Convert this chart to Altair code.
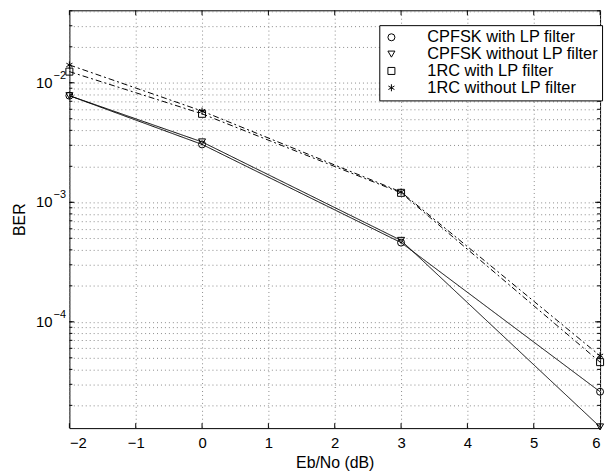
import altair as alt
import pandas as pd

# ---- data ----
ebno = [-2, 0, 3, 6]
series_names = ["CPFSK with LP filter", "CPFSK without LP filter",
                "1RC with LP filter", "1RC without LP filter"]
cpfsk_lp = [7.8e-3, 3.05e-3, 4.6e-4, 2.6e-5]
cpfsk_nolp = [7.8e-3, 3.2e-3, 4.8e-4, 1.32e-5]
rc_lp = [1.24e-2, 5.5e-3, 1.2e-3, 4.6e-5]
rc_nolp = [1.41e-2, 5.8e-3, 1.22e-3, 5.2e-5]
series_style = ["solid", "solid", "dashdot", "dashdot"]

x_ticks = [-2, -1, 0, 1, 2, 3, 4, 5, 6]
y_domain = [1.29e-5, 4.04e-2]
y_decades = [1e-4, 1e-3, 1e-2]
y_exponents = ["\u22124", "\u22123", "\u22122"]
y_minor = [m * 10.0 ** d for d in range(-5, -1) for m in range(1, 10)
           if y_domain[0] <= m * 10.0 ** d <= y_domain[1]]

W, H = 536, 422
FONT = "Liberation Sans"

rows = []
for name, style, vals in zip(series_names, series_style,
                             [cpfsk_lp, cpfsk_nolp, rc_lp, rc_nolp]):
    for x, v in zip(ebno, vals):
        rows.append({"x": x, "ber": v, "series": name, "style": style})
df = pd.DataFrame(rows)

xscale = alt.Scale(domain=[-2, 6], nice=False, zero=False)
yscale = alt.Scale(type="log", domain=y_domain, nice=False)

x_axis = alt.Axis(values=x_ticks, grid=True, gridDash=[1, 3],
                  gridColor="#8a8a8a", ticks=False, domain=False,
                  labelFontSize=15, labelFont=FONT, labelPadding=8,
                  labelColor="black", title="Eb/No (dB)",
                  titleFont=FONT, titleFontSize=16, titleFontWeight="normal",
                  titleColor="black", titlePadding=4)
y_axis = alt.Axis(values=y_minor, grid=True, gridDash=[1, 3],
                  gridColor="#8a8a8a", ticks=False, domain=False,
                  labels=False, title="BER", titleFont=FONT,
                  titleFontSize=16, titleFontWeight="normal",
                  titleColor="black", titlePadding=42)

asterisk = "M0,-1L0,1M-0.866,-0.5L0.866,0.5M-0.866,0.5L0.866,-0.5"

X = alt.X("x:Q", scale=xscale, axis=x_axis, title="Eb/No (dB)")
Y = alt.Y("ber:Q", scale=yscale, axis=y_axis, title="BER")

lines = alt.Chart(df).mark_line(color="black", strokeWidth=1).encode(
    x=X, y=Y,
    detail="series:N",
    strokeDash=alt.StrokeDash("style:N", scale=alt.Scale(
        domain=["solid", "dashdot"], range=[[1, 0], [6, 3, 2, 3]]), legend=None),
)

points = alt.Chart(df).mark_point(filled=False, color="black", size=50,
                                  strokeWidth=1, opacity=1).encode(
    x=X, y=Y,
    shape=alt.Shape("series:N", scale=alt.Scale(
        domain=series_names,
        range=["circle", "triangle-down", "square", asterisk]),
        legend=alt.Legend(title=None, orient="none", legendX=313, legendY=15,
                          strokeColor="black", fillColor="white", padding=4,
                          labelFontSize=16.5, labelFont=FONT, labelColor="black",
                          labelOffset=28, rowPadding=0, symbolSize=50,
                          symbolStrokeColor="black", symbolFillColor="white",
                          symbolStrokeWidth=1, labelLimit=400, cornerRadius=0)),
)

xt = pd.DataFrame({"x": x_ticks})
yt_major = pd.DataFrame({"ber": y_decades})
yt_minor = pd.DataFrame({"ber": y_minor})

def xtick(y0, y1):
    return alt.Chart(xt).mark_rule(color="black", strokeWidth=1).encode(
        x=X, y=alt.value(y0), y2=alt.value(y1))

def ytick(src, x0, x1):
    return alt.Chart(src).mark_rule(color="black", strokeWidth=1).encode(
        y=Y, x=alt.value(x0), x2=alt.value(x1))

ticks = [xtick(H, H - 5), xtick(0, 5),
         ytick(yt_major, 0, 5), ytick(yt_major, W, W - 5),
         ytick(yt_minor, 0, 3), ytick(yt_minor, W, W - 3)]

ylab_df = pd.DataFrame({"ber": y_decades, "e": y_exponents})
ylab_base = alt.Chart(ylab_df).mark_text(align="right", baseline="middle",
                                         fontSize=15, font=FONT, color="black").encode(
    y=Y, x=alt.value(-17), text=alt.value("10"))
ylab_exp = alt.Chart(ylab_df).mark_text(align="left", baseline="middle",
                                        fontSize=11, font=FONT, color="black",
                                        dy=-7).encode(
    y=Y, x=alt.value(-16), text="e:N")

chart = alt.layer(lines, *ticks, points, ylab_base, ylab_exp).properties(
    width=W, height=H,
    background="white",
    autosize=alt.AutoSizeParams(type="none"),
    padding={"left": 62, "top": 0, "right": 8, "bottom": 43},
).configure_view(stroke="black", strokeWidth=1)

chart.save("out.html", embed_options={"renderer": "svg", "actions": False})
